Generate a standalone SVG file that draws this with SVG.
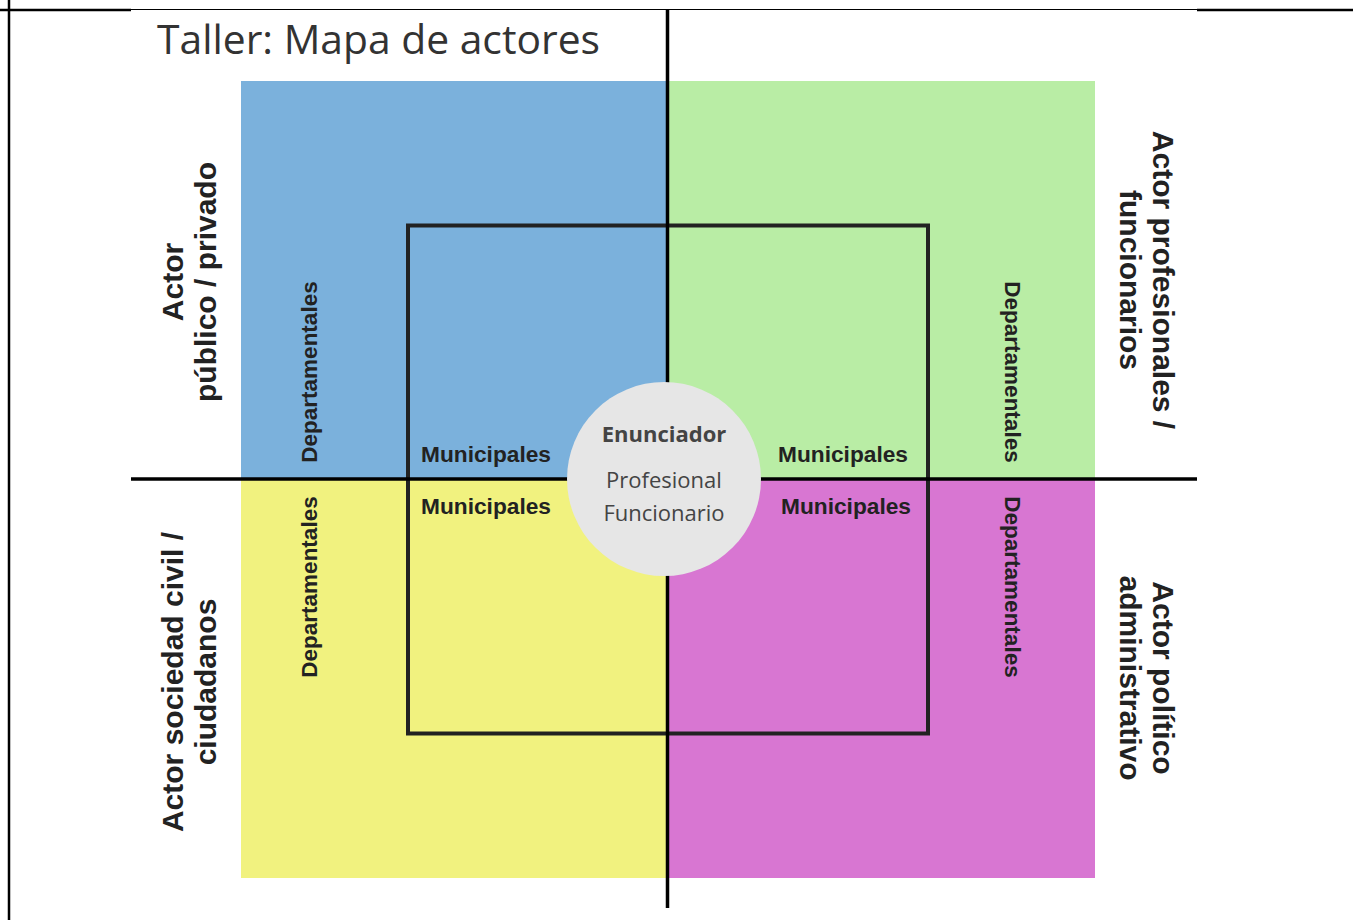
<svg xmlns="http://www.w3.org/2000/svg" width="1353" height="920" viewBox="0 0 1353 920">
  <style>
    .axis { stroke: #000; stroke-width: 3.5; fill: none; }
    .frame { stroke: #000; fill: none; }
    .actor { font-family: "Liberation Sans", Arial, sans-serif; font-weight: bold; font-size: 30px; fill: #222; text-anchor: middle; }
    .lvl { font-family: "Liberation Sans", Arial, sans-serif; font-weight: bold; font-size: 22.7px; fill: #222; text-anchor: middle; }
    .dep { font-family: "Liberation Sans", Arial, sans-serif; font-weight: bold; font-size: 22.5px; fill: #222; text-anchor: middle; }
    .ctr { font-family: "Open Sans", "Liberation Sans", sans-serif; font-size: 22px; fill: #444; text-anchor: middle; }
  </style>
  <rect width="1353" height="920" fill="#ffffff"/>

  <g id="page-frame">
    <line class="frame" x1="9" y1="0" x2="9" y2="920" stroke-width="2.5"/>
    <line class="frame" x1="0" y1="10" x2="131" y2="10" stroke-width="2.5"/>
    <line class="frame" x1="131" y1="9.5" x2="1197" y2="9.5" stroke-width="1"/>
    <line class="frame" x1="1197" y1="10" x2="1353" y2="10" stroke-width="2.5"/>
  </g>

  <g id="title">
    <text x="157" y="54" font-family="'Open Sans', 'Liberation Sans', sans-serif" font-size="40.8" fill="#333">Taller: Mapa de actores</text>
  </g>

  <g id="quadrant-publico-privado">
    <rect x="241" y="81" width="427" height="398" fill="#7bb1dc"/>
  </g>
  <g id="quadrant-profesionales">
    <rect x="668" y="81" width="427" height="398" fill="#b9eda5"/>
  </g>
  <g id="quadrant-sociedad-civil">
    <rect x="241" y="479" width="427" height="399" fill="#f1f27f"/>
  </g>
  <g id="quadrant-politico">
    <rect x="668" y="479" width="427" height="399" fill="#d876d2"/>
  </g>

  <g id="municipal-square">
    <rect x="408" y="225.5" width="520" height="508" fill="none" stroke="#222" stroke-width="4"/>
  </g>

  <g id="connectors">
    <line class="axis" x1="667.5" y1="10" x2="667.5" y2="908"/>
    <line class="axis" x1="131" y1="479" x2="1197" y2="479"/>
  </g>

  <g id="enunciador">
    <circle cx="664" cy="479" r="97" fill="#e6e6e6"/>
    <text class="ctr" x="664" y="442" font-weight="bold" fill="#333" font-size="21">Enunciador</text>
    <text class="ctr" x="664" y="488">Profesional</text>
    <text class="ctr" x="664" y="521">Funcionario</text>
  </g>

  <g id="label-publico-privado">
    <text class="actor" transform="translate(183,282) rotate(-90)">Actor</text>
    <text class="actor" transform="translate(216,282) rotate(-90)">público / privado</text>
  </g>
  <g id="label-sociedad-civil">
    <text class="actor" transform="translate(183,682) rotate(-90)">Actor sociedad civil /</text>
    <text class="actor" transform="translate(216,682) rotate(-90)">ciudadanos</text>
  </g>
  <g id="label-profesionales">
    <text class="actor" transform="translate(1153,280) rotate(90)">Actor profesionales /</text>
    <text class="actor" transform="translate(1120,280) rotate(90)">funcionarios</text>
  </g>
  <g id="label-politico">
    <text class="actor" transform="translate(1153,678) rotate(90)">Actor político</text>
    <text class="actor" transform="translate(1120,678) rotate(90)">administrativo</text>
  </g>

  <g id="departamentales-tl">
    <text class="dep" transform="translate(317,372) rotate(-90)">Departamentales</text>
  </g>
  <g id="departamentales-bl">
    <text class="dep" transform="translate(317,587) rotate(-90)">Departamentales</text>
  </g>
  <g id="departamentales-tr">
    <text class="dep" transform="translate(1005,372) rotate(90)">Departamentales</text>
  </g>
  <g id="departamentales-br">
    <text class="dep" transform="translate(1005,587) rotate(90)">Departamentales</text>
  </g>

  <g id="municipales-tl">
    <text class="lvl" x="486" y="462">Municipales</text>
  </g>
  <g id="municipales-tr">
    <text class="lvl" x="843" y="462">Municipales</text>
  </g>
  <g id="municipales-bl">
    <text class="lvl" x="486" y="514">Municipales</text>
  </g>
  <g id="municipales-br">
    <text class="lvl" x="846" y="514">Municipales</text>
  </g>
</svg>
